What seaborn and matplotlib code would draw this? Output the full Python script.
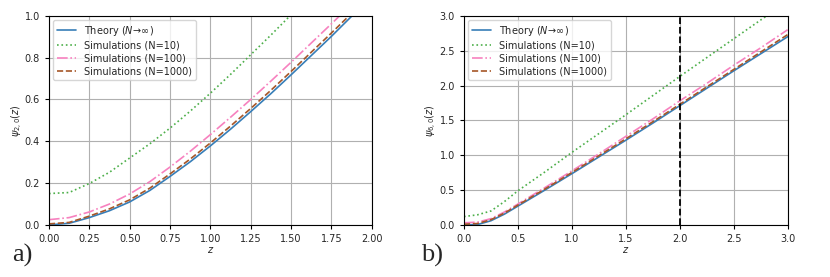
import matplotlib
matplotlib.use("Agg")
import numpy as np
import matplotlib.pyplot as plt
import seaborn as sns

# panel a) psi_{2,0}(z)
z_a = [0.0, 0.125, 0.25, 0.375, 0.5, 0.625, 0.75, 0.875, 1.0, 1.125, 1.25,
       1.375, 1.5, 1.625, 1.75, 1.875, 2.0]
theory_a = [0.0, 0.008, 0.035, 0.068, 0.11, 0.165, 0.232, 0.302, 0.378, 0.458,
            0.542, 0.628, 0.718, 0.81, 0.902, 0.998, 1.09]
n10_a = [0.15, 0.155, 0.198, 0.252, 0.32, 0.388, 0.463, 0.544, 0.63, 0.72,
         0.814, 0.908, 1.005, 1.10, 1.20, 1.30, 1.40]
n100_a = [0.025, 0.035, 0.062, 0.10, 0.148, 0.207, 0.277, 0.352, 0.432, 0.515,
          0.60, 0.688, 0.778, 0.87, 0.962, 1.055, 1.15]
n1000_a = [0.005, 0.012, 0.042, 0.077, 0.12, 0.176, 0.244, 0.315, 0.392, 0.473,
           0.557, 0.644, 0.734, 0.826, 0.918, 1.012, 1.105]

# panel b) psi_{6,0}(z)
z_b = [0.0, 0.125, 0.25, 0.375, 0.5, 0.75, 1.0, 1.25, 1.5, 1.75, 2.0, 2.25,
       2.5, 2.75, 3.0]
theory_b = [0.0, 0.005, 0.06, 0.155, 0.27, 0.5, 0.735, 0.975, 1.215, 1.46,
            1.71, 1.96, 2.21, 2.455, 2.70]
n10_b = [0.12, 0.145, 0.20, 0.335, 0.49, 0.76, 1.04, 1.31, 1.58, 1.855, 2.13,
         2.40, 2.67, 2.94, 3.2]
n100_b = [0.03, 0.04, 0.09, 0.185, 0.30, 0.535, 0.775, 1.02, 1.27, 1.52, 1.78,
          2.03, 2.29, 2.54, 2.80]
n1000_b = [0.01, 0.02, 0.075, 0.17, 0.285, 0.515, 0.752, 0.993, 1.235, 1.48,
           1.73, 1.98, 2.23, 2.48, 2.73]

labels = [r"Theory ($N\!\rightarrow\!\infty$)", "Simulations (N=10)",
          "Simulations (N=100)", "Simulations (N=1000)"]
vline_b = 2.0

sns.set_style("ticks", {"axes.grid": True, "grid.color": "#b0b0b0",
                        "axes.edgecolor": "black"})
plt.rcParams["font.family"] = ["DejaVu Sans"]

pal = sns.color_palette("Set1")
colors = [pal[1], pal[2], pal[7], pal[6]]
styles = ["-", ":", "-.", "--"]

fig = plt.figure(figsize=(8.3, 2.77), dpi=100)
ax_a = fig.add_axes([0.059, 0.188, 0.389, 0.755])
ax_b = fig.add_axes([0.559, 0.188, 0.390, 0.755])


def draw_panel(ax, z, series, xlim, ylim, xticks, yticks, xfmt, ylabel):
    for y, lab, c, ls in zip(series, labels, colors, styles):
        sns.lineplot(x=z, y=y, ax=ax, color=c, linestyle=ls, label=lab,
                     linewidth=1.2)
    ax.set_xlim(*xlim)
    ax.set_ylim(*ylim)
    ax.set_xticks(xticks)
    ax.set_yticks(yticks)
    ax.set_xticklabels([xfmt.format(t) for t in xticks])
    ax.set_yticklabels(["{:.1f}".format(t) for t in yticks])
    ax.tick_params(labelsize=7, length=3, width=0.8, color="black")
    ax.grid(True, color="#b0b0b0", linewidth=0.8)
    ax.set_xlabel(r"$z$", fontsize=7, labelpad=1)
    ax.set_ylabel(ylabel, fontsize=7, labelpad=0)
    for sp in ax.spines.values():
        sp.set_color("black")
        sp.set_linewidth(0.8)
    leg = ax.legend(loc="upper left", fontsize=7, frameon=True,
                    borderpad=0.4, labelspacing=0.3, handlelength=2.0,
                    borderaxespad=0.4)
    leg.get_frame().set_edgecolor("#cccccc")


draw_panel(ax_a, z_a, [theory_a, n10_a, n100_a, n1000_a], (0, 2.0), (0, 1.0),
           np.arange(0, 2.01, 0.25), np.arange(0, 1.01, 0.2), "{:.2f}",
           r"$\psi_{2,0}(z)$")
draw_panel(ax_b, z_b, [theory_b, n10_b, n100_b, n1000_b], (0, 3.0), (0, 3.0),
           np.arange(0, 3.01, 0.5), np.arange(0, 3.01, 0.5), "{:.1f}",
           r"$\psi_{6,0}(z)$")
ax_b.axvline(vline_b, color="black", linestyle="--", linewidth=1.3)

fig.text(0.0145, 0.054, "a)", fontsize=19, family="Liberation Serif",
         va="baseline")
fig.text(0.507, 0.054, "b)", fontsize=19, family="Liberation Serif",
         va="baseline")

fig.savefig("out.png", dpi=100)
